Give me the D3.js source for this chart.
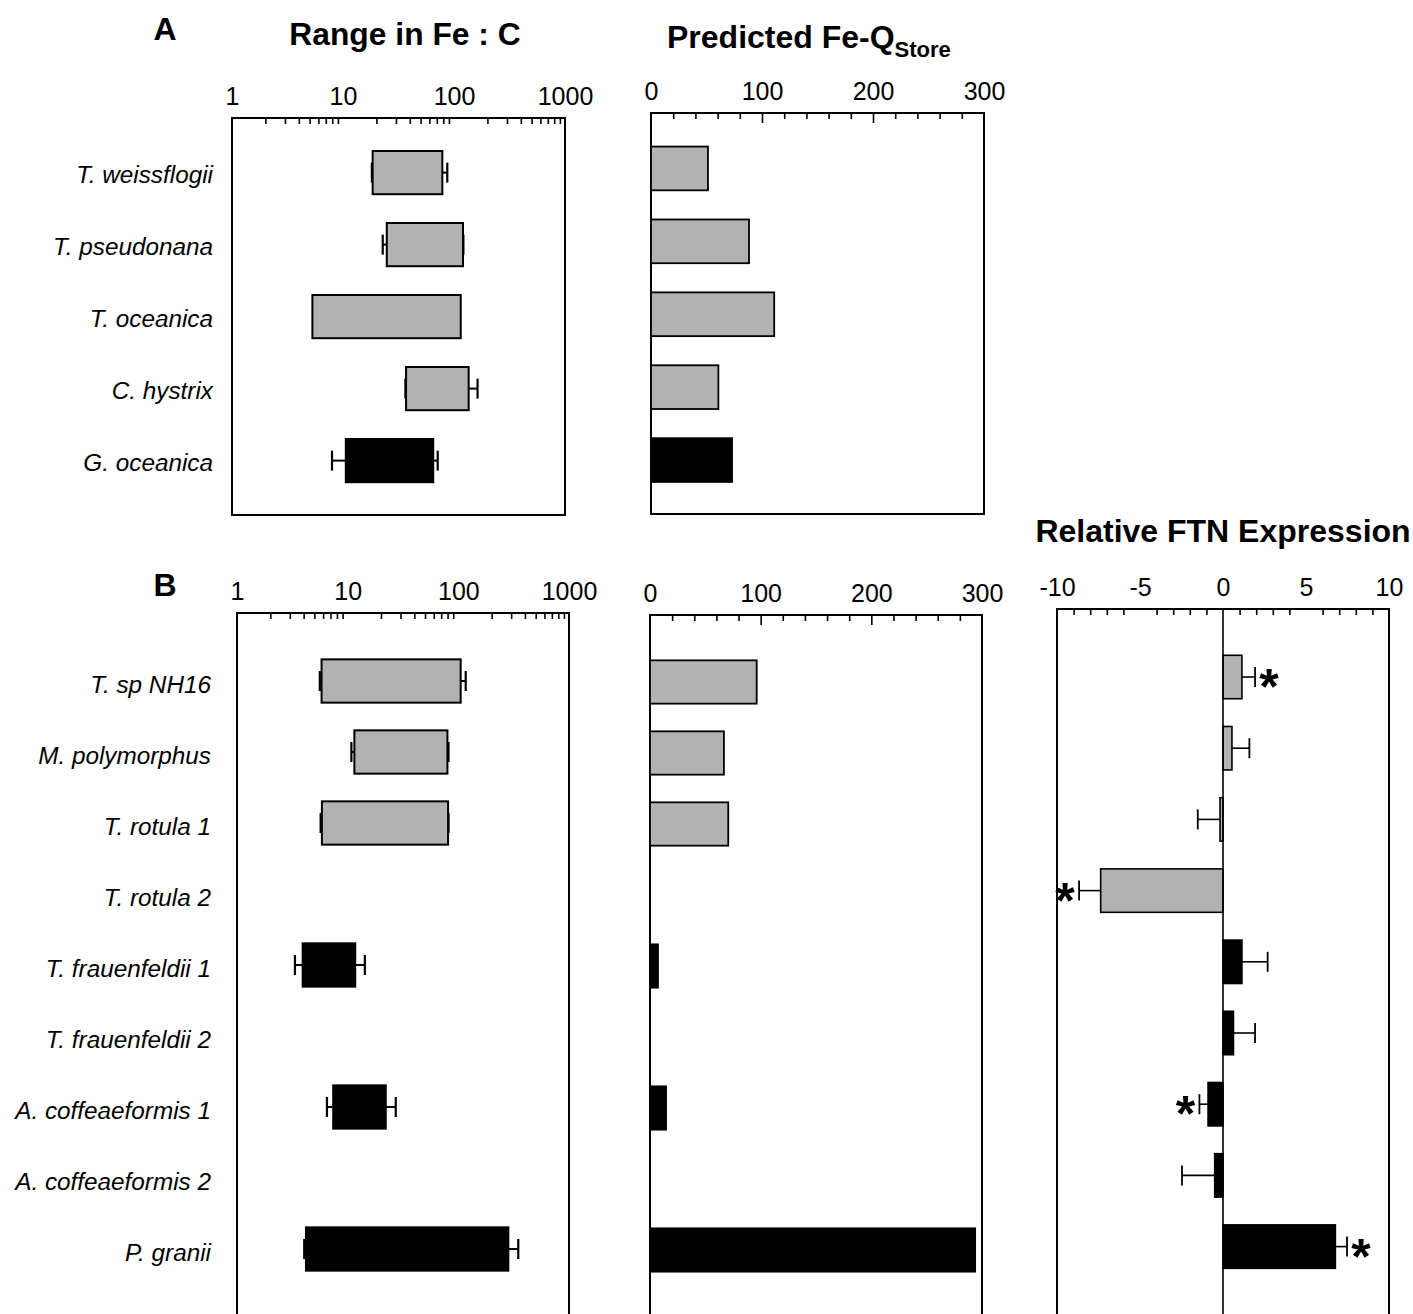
<!DOCTYPE html>
<html>
<head>
<meta charset="utf-8">
<script src="https://cdn.jsdelivr.net/npm/d3@7"></script>
<style>
  body { margin: 0; background: #fff; }
  text { font-family: "Liberation Sans", Arial, sans-serif; }
</style>
</head>
<body>
<div id="chart"></div>
<script>
// ---- data ----
var speciesA = ["T. weissflogii", "T. pseudonana", "T. oceanica", "C. hystrix", "G. oceanica"];
var shadeA = ["gray", "gray", "gray", "gray", "black"];
var feCLowA = [18.5, 24.8, 5.3, 37, 10.6];
var feCHighA = [78.5, 120.5, 115, 135.6, 65];
var feCErrLowA = [18.2, 22.8, null, 36.5, 7.96];
var feCErrHighA = [87, 121.5, null, 163, 71.3];
var qStoreA = [51.3, 88.3, 111, 60.7, 73];

var speciesB = ["T. sp NH16", "M. polymorphus", "T. rotula 1", "T. rotula 2", "T. frauenfeldii 1",
                "T. frauenfeldii 2", "A. coffeaeformis 1", "A. coffeaeformis 2", "P. granii"];
var shadeB = ["gray", "gray", "gray", "gray", "black", "black", "black", "black", "black"];
var feCLowB = [5.81, 11.5, 5.85, null, 3.92, null, 7.4, null, 4.2];
var feCHighB = [105, 79.7, 80.8, null, 11.7, null, 22.1, null, 283];
var feCErrLowB = [5.6, 10.8, 5.7, null, 3.34, null, 6.5, null, 4.05];
var feCErrHighB = [116.6, 81.5, 81.5, null, 14.3, null, 27.2, null, 348];
var qStoreB = [96.4, 66.8, 70.7, null, 7.2, null, 14.5, null, 293.8];
var ftnB = [1.14, 0.54, -0.18, -7.37, 1.14, 0.63, -0.9, -0.5, 6.77];
var ftnErrB = [0.79, 1.05, 1.34, 1.3, 1.55, 1.3, 0.52, 1.97, 0.7];
var ftnSigB = [true, false, false, true, false, false, true, false, true];

var logLabels = [1, 10, 100, 1000];
var storeLabels = [0, 100, 200, 300];
var ftnLabels = [-10, -5, 0, 5, 10];

var fills = {gray: "#b2b2b2", black: "#000"};

var svg = d3.select("#chart").append("svg")
    .attr("width", 1413)
    .attr("height", 1314);

// frame + ticks on top, labels above
function frame(p, x, labels, minor, major) {
  var g = svg.append("g");
  g.append("rect")
    .attr("x", p.x0).attr("y", p.y0)
    .attr("width", p.x1 - p.x0).attr("height", p.y1 - p.y0)
    .attr("fill", "none").attr("stroke", "#000").attr("stroke-width", 2);

  g.append("g")
    .attr("transform", "translate(0," + p.y0 + ")")
    .call(d3.axisTop(x).tickValues(minor).tickSize(-6).tickFormat(""))
    .call(function(a) { a.select(".domain").remove(); a.selectAll("line").attr("stroke-width", 1.6); });

  if (major) {
    g.append("g")
      .attr("transform", "translate(0," + p.y0 + ")")
      .call(d3.axisTop(x).tickValues(major).tickSize(-10).tickFormat(""))
      .call(function(a) { a.select(".domain").remove(); a.selectAll("line").attr("stroke-width", 1.6); });
  }

  g.append("g")
    .attr("transform", "translate(0," + p.y0 + ")")
    .call(d3.axisTop(x).tickValues(labels).tickSize(0).tickPadding(13)
      .tickFormat(function(d) { return String(d); }))
    .call(function(a) {
      a.select(".domain").remove();
      a.selectAll("text").attr("font-family", "Liberation Sans, Arial, sans-serif")
        .attr("font-size", 25).attr("fill", "#000");
    });
  return g;
}

function band(domain, r0, r1, pi, po) {
  return d3.scaleBand().domain(domain).range([r0, r1]).paddingInner(pi).paddingOuter(po);
}

// range (log) panel
function rangePanel(p, species, shade, lo, hi, eLo, eHi) {
  var x = d3.scaleLog().domain([1, 1000]).range([p.x0, p.x1]);
  var y = band(species, p.b0, p.b1, p.pi, p.po);
  var minor = x.ticks().filter(function(d) { return logLabels.indexOf(d) < 0; });
  var g = frame(p, x, logLabels, minor);
  var h = y.bandwidth();

  species.forEach(function(s, i) {
    if (lo[i] == null) return;
    var cy = y(s) + h / 2;
    if (eLo[i] != null) {
      g.append("line").attr("x1", x(eLo[i])).attr("x2", x(lo[i])).attr("y1", cy).attr("y2", cy)
        .attr("stroke", "#000").attr("stroke-width", 2);
      g.append("line").attr("x1", x(eLo[i])).attr("x2", x(eLo[i])).attr("y1", cy - 10).attr("y2", cy + 10)
        .attr("stroke", "#000").attr("stroke-width", 2.2);
    }
    if (eHi[i] != null) {
      g.append("line").attr("x1", x(hi[i])).attr("x2", x(eHi[i])).attr("y1", cy).attr("y2", cy)
        .attr("stroke", "#000").attr("stroke-width", 2);
      g.append("line").attr("x1", x(eHi[i])).attr("x2", x(eHi[i])).attr("y1", cy - 10).attr("y2", cy + 10)
        .attr("stroke", "#000").attr("stroke-width", 2.2);
    }
    g.append("rect")
      .attr("x", x(lo[i])).attr("y", y(s))
      .attr("width", x(hi[i]) - x(lo[i])).attr("height", h)
      .attr("fill", fills[shade[i]]).attr("stroke", "#000").attr("stroke-width", 2);
  });
  return y;
}

// predicted store panel
function storePanel(p, species, shade, vals) {
  var x = d3.scaleLinear().domain([0, 300]).range([p.x0, p.x1]);
  var y = band(species, p.b0, p.b1, p.pi, p.po);
  var minor = x.ticks(15).filter(function(d) { return storeLabels.indexOf(d) < 0; });
  var g = frame(p, x, storeLabels, minor, [100, 200]);
  species.forEach(function(s, i) {
    if (vals[i] == null) return;
    g.append("rect")
      .attr("x", x(0)).attr("y", y(s))
      .attr("width", x(vals[i]) - x(0)).attr("height", y.bandwidth())
      .attr("fill", fills[shade[i]]).attr("stroke", "#000").attr("stroke-width", 1.8);
  });
}

// FTN expression panel
function ftnPanel(p, species, shade, vals, errs, sig) {
  var x = d3.scaleLinear().domain([-10, 10]).range([p.x0, p.x1]);
  var y = band(species, p.b0, p.b1, p.pi, p.po);
  var minor = x.ticks(20).filter(function(d) { return d % 5 !== 0; });
  var g = frame(p, x, ftnLabels, minor);
  var h = y.bandwidth();

  species.forEach(function(s, i) {
    var v = vals[i], sgn = v < 0 ? -1 : 1;
    var cy = y(s) + h / 2;
    var xe = x(v + sgn * errs[i]);
    g.append("line").attr("x1", x(v)).attr("x2", xe).attr("y1", cy).attr("y2", cy)
      .attr("stroke", "#000").attr("stroke-width", 1.6);
    g.append("line").attr("x1", xe).attr("x2", xe).attr("y1", cy - 10).attr("y2", cy + 10)
      .attr("stroke", "#000").attr("stroke-width", 1.8);
    g.append("rect")
      .attr("x", Math.min(x(0), x(v))).attr("y", y(s))
      .attr("width", Math.abs(x(v) - x(0))).attr("height", h)
      .attr("fill", fills[shade[i]]).attr("stroke", "#000").attr("stroke-width", 1.6);
    if (sig[i]) {
      g.append("text")
        .attr("x", xe + sgn * 14).attr("y", cy + 27)
        .attr("text-anchor", "middle")
        .attr("font-size", 50).attr("font-weight", "bold")
        .text("*");
    }
  });

  g.append("line")
    .attr("x1", x(0)).attr("x2", x(0)).attr("y1", p.y0).attr("y2", p.y1)
    .attr("stroke", "#000").attr("stroke-width", 1.6);
}

// ---- panel A ----
var yA = rangePanel({x0: 232, x1: 565, y0: 118, y1: 515, b0: 136.6, b1: 496.6, pi: 0.4, po: 0.2},
  speciesA, shadeA, feCLowA, feCHighA, feCErrLowA, feCErrHighA);
storePanel({x0: 651, x1: 984, y0: 113, y1: 514, b0: 132, b1: 496.5, pi: 0.4, po: 0.2},
  speciesA, shadeA, qStoreA);

// ---- panel B ----
var yB = rangePanel({x0: 237, x1: 569, y0: 613, y1: 1340, b0: 645.5, b1: 1284.5, pi: 0.39, po: 0.195},
  speciesB, shadeB, feCLowB, feCHighB, feCErrLowB, feCErrHighB);
storePanel({x0: 650, x1: 982, y0: 615, y1: 1340, b0: 646.5, b1: 1285.5, pi: 0.39, po: 0.195},
  speciesB, shadeB, qStoreB);
ftnPanel({x0: 1057, x1: 1389, y0: 609, y1: 1340, b0: 641.4, b1: 1282.2, pi: 0.39, po: 0.195},
  speciesB, shadeB, ftnB, ftnErrB, ftnSigB);

// species labels
svg.append("g").selectAll("text")
  .data(speciesA).enter().append("text")
    .attr("x", 213)
    .attr("y", function(d) { return yA(d) + yA.bandwidth() / 2 + 2; })
    .attr("dy", "0.35em")
    .attr("text-anchor", "end")
    .attr("font-style", "italic")
    .attr("font-size", 24.3)
    .text(function(d) { return d; });

svg.append("g").selectAll("text")
  .data(speciesB).enter().append("text")
    .attr("x", 211)
    .attr("y", function(d) { return yB(d) + yB.bandwidth() / 2 + 3; })
    .attr("dy", "0.35em")
    .attr("text-anchor", "end")
    .attr("font-style", "italic")
    .attr("font-size", 24.3)
    .text(function(d) { return d; });

// titles
svg.append("text").attr("x", 165).attr("y", 40).attr("text-anchor", "middle")
  .attr("font-size", 32).attr("font-weight", "bold").text("A");
svg.append("text").attr("x", 165).attr("y", 596).attr("text-anchor", "middle")
  .attr("font-size", 32).attr("font-weight", "bold").text("B");

svg.append("text").attr("x", 405).attr("y", 45).attr("text-anchor", "middle")
  .attr("font-size", 31.8).attr("font-weight", "bold").text("Range in Fe : C");

var fq = svg.append("text").attr("x", 667).attr("y", 48)
  .attr("font-size", 32).attr("font-weight", "bold");
fq.append("tspan").text("Predicted Fe-Q");
fq.append("tspan").attr("font-size", 22).attr("dy", 9).text("Store");

svg.append("text").attr("x", 1223).attr("y", 542).attr("text-anchor", "middle")
  .attr("font-size", 32).attr("font-weight", "bold").text("Relative FTN Expression");
</script>
</body>
</html>
